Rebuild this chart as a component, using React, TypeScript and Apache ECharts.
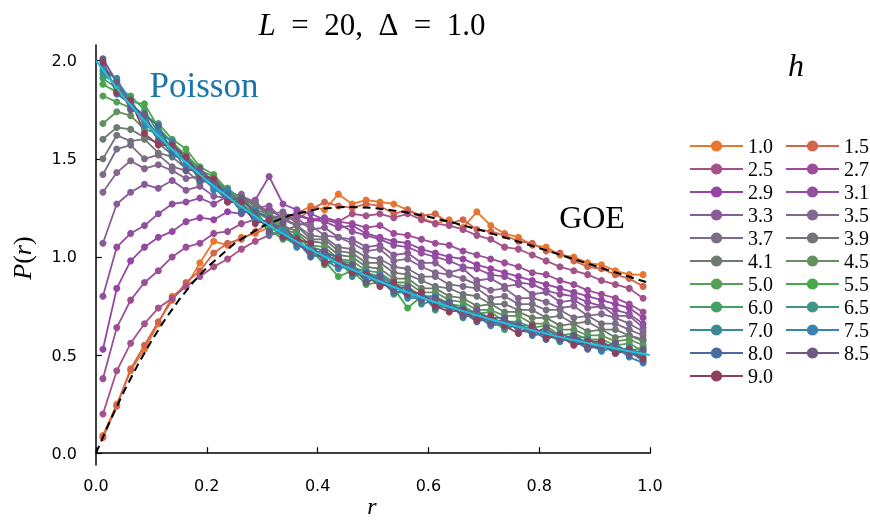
import { useEffect, useRef } from "react";
import * as echarts from "echarts";

// bin centres of r
const rBins = [0.0125,0.0375,0.0625,0.0875,0.1125,0.1375,0.1625,0.1875,0.2125,0.2375,0.2625,0.2875,0.3125,0.3375,0.3625,0.3875,0.4125,0.4375,0.4625,0.4875,0.5125,0.5375,0.5625,0.5875,0.6125,0.6375,0.6625,0.6875,0.7125,0.7375,0.7625,0.7875,0.8125,0.8375,0.8625,0.8875,0.9125,0.9375,0.9625,0.9875];

const hLabels = ["1.0","1.5","2.5","2.7","2.9","3.1","3.3","3.5","3.7","3.9","4.1","4.5","5.0","5.5","6.0","6.5","7.0","7.5","8.0","8.5","9.0"];
const hColors = ["#e8762b","#d2654c","#a5518a","#9c4d98","#9546a3","#924fa0","#895c99","#84668f","#7b6d85","#737379","#6c7b6e","#63905e","#55a052","#47a84b","#43a163","#3f9682","#3a8a91","#3982b4","#476ba0","#6c5a84","#8d3f5c"];

const p_h10 = [0.09,0.25,0.42,0.53,0.66,0.80,0.85,0.97,1.08,1.06,1.10,1.12,1.15,1.18,1.22,1.26,1.24,1.32,1.27,1.29,1.28,1.27,1.24,1.20,1.17,1.19,1.15,1.23,1.16,1.12,1.10,1.06,1.05,1.01,1.00,0.97,0.96,0.93,0.91,0.91];
const p_h15 = [0.08,0.24,0.43,0.55,0.67,0.78,0.87,0.93,1.02,1.07,1.09,1.13,1.17,1.21,1.19,1.24,1.28,1.26,1.25,1.27,1.26,1.22,1.24,1.21,1.22,1.17,1.19,1.14,1.13,1.11,1.08,1.07,1.03,1.02,0.98,0.95,0.94,0.91,0.89,0.85];
const p_h25 = [0.20,0.42,0.56,0.66,0.74,0.79,0.85,0.90,0.95,0.99,1.04,1.08,1.11,1.13,1.16,1.18,1.20,1.18,1.22,1.21,1.22,1.20,1.22,1.19,1.17,1.16,1.14,1.11,1.09,1.05,1.04,1.01,0.98,0.95,0.93,0.91,0.88,0.86,0.84,0.79];
const p_h27 = [0.38,0.64,0.78,0.87,0.93,1.00,1.05,1.07,1.12,1.13,1.17,1.19,1.18,1.22,1.21,1.19,1.20,1.18,1.17,1.15,1.16,1.12,1.11,1.09,1.07,1.06,1.03,1.01,0.99,0.97,0.95,0.92,0.91,0.88,0.86,0.83,0.81,0.79,0.76,0.72];
const p_h29 = [0.53,0.84,0.98,1.05,1.10,1.13,1.18,1.20,1.19,1.23,1.22,1.25,1.24,1.20,1.22,1.19,1.18,1.15,1.16,1.12,1.10,1.08,1.07,1.04,1.02,1.00,0.99,0.96,0.94,0.92,0.90,0.88,0.86,0.84,0.82,0.80,0.78,0.76,0.74,0.69];
const p_h31 = [0.80,1.05,1.12,1.16,1.22,1.27,1.28,1.30,1.27,1.31,1.28,1.29,1.41,1.27,1.24,1.22,1.19,1.17,1.13,1.11,1.09,1.06,1.05,1.02,1.00,0.98,0.95,0.94,0.91,0.90,0.87,0.86,0.83,0.81,0.80,0.77,0.75,0.73,0.71,0.66];
const p_h33 = [1.07,1.27,1.33,1.37,1.35,1.39,1.34,1.36,1.31,1.30,1.32,1.25,1.26,1.19,1.20,1.14,1.15,1.10,1.09,1.05,1.06,1.01,1.02,0.97,0.97,0.92,0.94,0.88,0.89,0.85,0.86,0.81,0.82,0.77,0.78,0.74,0.75,0.70,0.70,0.64];
const p_h35 = [1.33,1.43,1.49,1.45,1.47,1.44,1.40,1.41,1.35,1.33,1.31,1.28,1.22,1.23,1.17,1.16,1.11,1.10,1.07,1.03,1.04,0.98,0.99,0.95,0.92,0.91,0.89,0.86,0.83,0.84,0.79,0.79,0.77,0.74,0.75,0.70,0.71,0.69,0.66,0.62];
const p_h37 = [1.42,1.55,1.57,1.50,1.52,1.46,1.44,1.38,1.39,1.32,1.30,1.27,1.21,1.20,1.16,1.11,1.10,1.05,1.04,1.00,0.99,0.95,0.94,0.90,0.90,0.86,0.85,0.84,0.79,0.80,0.76,0.76,0.73,0.73,0.69,0.70,0.66,0.66,0.63,0.60];
const p_h39 = [1.50,1.62,1.59,1.60,1.53,1.51,1.45,1.43,1.37,1.35,1.29,1.27,1.21,1.19,1.16,1.09,1.09,1.03,1.02,0.97,0.97,0.92,0.91,0.88,0.85,0.84,0.81,0.80,0.76,0.76,0.73,0.73,0.69,0.70,0.66,0.67,0.63,0.63,0.60,0.58];
const p_h41 = [1.60,1.66,1.65,1.61,1.58,1.52,1.49,1.42,1.40,1.33,1.30,1.24,1.22,1.16,1.13,1.08,1.07,1.01,1.00,0.95,0.94,0.89,0.89,0.84,0.84,0.80,0.79,0.75,0.76,0.72,0.72,0.69,0.69,0.65,0.66,0.62,0.63,0.59,0.60,0.57];
const p_h45 = [1.68,1.74,1.72,1.65,1.63,1.56,1.51,1.44,1.41,1.34,1.30,1.23,1.21,1.14,1.12,1.06,1.05,0.99,0.98,0.93,0.92,0.87,0.87,0.82,0.82,0.78,0.77,0.73,0.73,0.70,0.70,0.66,0.66,0.63,0.63,0.60,0.60,0.57,0.58,0.55];
const p_h50 = [1.82,1.79,1.76,1.72,1.68,1.60,1.55,1.46,1.42,1.34,1.29,1.23,1.19,1.14,1.10,1.05,1.03,0.99,0.95,0.92,0.90,0.86,0.85,0.80,0.80,0.76,0.75,0.71,0.72,0.67,0.67,0.64,0.65,0.60,0.61,0.58,0.58,0.55,0.56,0.52];
const p_h55 = [1.88,1.84,1.79,1.78,1.66,1.58,1.52,1.45,1.37,1.32,1.27,1.22,1.16,1.10,1.06,1.05,0.98,0.90,0.93,0.86,0.87,0.84,0.74,0.80,0.77,0.75,0.74,0.69,0.69,0.65,0.66,0.62,0.62,0.58,0.60,0.55,0.56,0.52,0.53,0.49];
const p_h60 = [1.91,1.86,1.82,1.75,1.63,1.59,1.50,1.39,1.38,1.35,1.24,1.24,1.14,1.09,1.11,1.04,0.96,0.98,0.97,0.87,0.90,0.81,0.83,0.81,0.73,0.76,0.70,0.72,0.68,0.63,0.66,0.62,0.62,0.57,0.59,0.59,0.53,0.55,0.52,0.54];
const p_h65 = [1.93,1.88,1.80,1.69,1.60,1.57,1.48,1.40,1.39,1.33,1.25,1.19,1.17,1.15,1.06,1.05,1.03,0.95,0.94,0.93,0.87,0.87,0.80,0.80,0.77,0.73,0.74,0.71,0.66,0.68,0.63,0.61,0.63,0.60,0.57,0.54,0.57,0.53,0.51,0.52];
const p_h70 = [1.95,1.91,1.76,1.71,1.62,1.52,1.51,1.43,1.36,1.28,1.28,1.24,1.12,1.12,1.10,1.01,1.00,0.99,0.90,0.92,0.86,0.85,0.84,0.76,0.78,0.77,0.69,0.72,0.69,0.64,0.65,0.65,0.59,0.59,0.56,0.58,0.55,0.51,0.54,0.50];
const p_h75 = [1.97,1.90,1.80,1.67,1.64,1.59,1.47,1.45,1.34,1.34,1.27,1.19,1.18,1.13,1.05,1.06,0.99,0.94,0.96,0.89,0.91,0.86,0.79,0.79,0.80,0.73,0.74,0.70,0.65,0.66,0.66,0.60,0.61,0.57,0.60,0.56,0.52,0.54,0.49,0.46];
const p_h80 = [2.00,1.83,1.78,1.72,1.67,1.53,1.50,1.39,1.39,1.32,1.23,1.23,1.20,1.10,1.08,1.00,1.02,1.00,0.92,0.92,0.88,0.82,0.83,0.81,0.74,0.77,0.72,0.67,0.69,0.69,0.62,0.63,0.58,0.61,0.58,0.53,0.56,0.51,0.52,0.47];
const p_h85 = [2.01,1.89,1.75,1.73,1.59,1.56,1.44,1.45,1.38,1.29,1.30,1.22,1.13,1.17,1.07,1.02,1.03,0.96,0.96,0.87,0.90,0.83,0.85,0.78,0.79,0.76,0.70,0.73,0.66,0.68,0.65,0.61,0.64,0.58,0.60,0.54,0.54,0.56,0.50,0.53];
const p_h90 = [1.99,1.84,1.80,1.63,1.57,1.57,1.51,1.41,1.40,1.28,1.28,1.17,1.19,1.10,1.09,1.07,0.97,0.99,0.92,0.91,0.85,0.87,0.81,0.82,0.75,0.72,0.73,0.68,0.70,0.65,0.61,0.65,0.59,0.60,0.55,0.57,0.57,0.51,0.53,0.48];

const hValues = [p_h10,p_h15,p_h25,p_h27,p_h29,p_h31,p_h33,p_h35,p_h37,p_h39,p_h41,p_h45,p_h50,p_h55,p_h60,p_h65,p_h70,p_h75,p_h80,p_h85,p_h90];

// reference curves
const goeR = [0,0.025,0.05,0.075,0.1,0.125,0.15,0.175,0.2,0.25,0.3,0.35,0.4,0.45,0.5,0.55,0.6,0.65,0.7,0.75,0.8,0.85,0.9,0.95,1.0];
const goeP = [0,0.162,0.312,0.448,0.572,0.683,0.782,0.870,0.946,1.069,1.156,1.212,1.244,1.255,1.250,1.232,1.205,1.171,1.132,1.089,1.045,1.000,0.955,0.910,0.866];
const poisR = [0,0.05,0.1,0.15,0.2,0.25,0.3,0.35,0.4,0.45,0.5,0.55,0.6,0.65,0.7,0.75,0.8,0.85,0.9,0.95,1.0];
const poisP = [2.000,1.814,1.653,1.512,1.389,1.280,1.183,1.097,1.020,0.951,0.889,0.833,0.781,0.735,0.692,0.653,0.617,0.584,0.554,0.526,0.500];

const xTicks = [0, 0.2, 0.4, 0.6, 0.8, 1.0];
const yTicks = [0, 0.5, 1.0, 1.5, 2.0];

const SERIF = "'Liberation Serif', 'DejaVu Serif', serif";
const SANS = "'DejaVu Sans', sans-serif";

export default function App() {
  const ref = useRef<HTMLDivElement>(null);
  useEffect(() => {
    if (!ref.current) return;
    const chart = echarts.init(ref.current, null, { renderer: "svg" });
    const dataSeries = hLabels.map((name, i) => ({
      name,
      type: "line",
      data: rBins.map((r, k) => [r, hValues[i][k]]),
      symbol: "circle",
      symbolSize: 7,
      showSymbol: true,
      lineStyle: { width: 1.8, color: hColors[i] },
      itemStyle: { color: hColors[i] },
      emphasis: { disabled: true },
      z: 2,
    }));
    const col1 = hLabels.filter((_, i) => i % 2 === 0);
    const col2 = hLabels.filter((_, i) => i % 2 === 1);
    const legendBase = {
      orient: "vertical",
      top: 131,
      itemWidth: 53,
      itemHeight: 14,
      itemGap: 3,
      selectedMode: false,
      textStyle: { fontFamily: SERIF, fontSize: 20, lineHeight: 20, color: "#000" },
    };
    chart.setOption({
      animation: false,
      grid: { left: 96, right: 220, top: 45, bottom: 56, containLabel: false },
      xAxis: {
        type: "value",
        min: 0,
        max: 1,
        interval: 0.2,
        axisLine: { show: true, lineStyle: { color: "#000", width: 1.5 } },
        axisTick: { show: true, inside: true, length: 6, lineStyle: { color: "#000", width: 1.2 }, customValues: xTicks },
        axisLabel: { margin: 12, fontFamily: SANS, fontSize: 16, color: "#000", formatter: (v: number) => v.toFixed(1), customValues: xTicks },
        splitLine: { show: false },
      },
      yAxis: {
        type: "value",
        min: -0.06,
        max: 2.08,
        axisLine: { show: true, lineStyle: { color: "#000", width: 1.5 } },
        axisTick: { show: true, inside: true, length: 6, lineStyle: { color: "#000", width: 1.2 }, customValues: yTicks },
        axisLabel: { margin: 19, fontFamily: SANS, fontSize: 16, color: "#000", formatter: (v: number) => v.toFixed(1), customValues: yTicks },
        splitLine: { show: false },
      },
      legend: [
        { ...legendBase, left: 684, data: col1 },
        { ...legendBase, left: 780, data: col2 },
      ],
      series: [
        ...dataSeries,
        {
          name: "GOE",
          type: "line",
          data: goeR.map((r, k) => [r, goeP[k]]),
          showSymbol: false,
          symbol: "none",
          lineStyle: { color: "#000", width: 2, type: [8, 5] },
          emphasis: { disabled: true },
          z: 3,
        },
        {
          name: "Poisson",
          type: "line",
          data: poisR.map((r, k) => [r, poisP[k]]),
          showSymbol: false,
          symbol: "none",
          lineStyle: { color: "#1cc3e3", width: 2 },
          emphasis: { disabled: true },
          z: 4,
        },
      ],
      graphic: [
        {
          type: "text",
          x: 372,
          y: 24,
          style: {
            text: "{i|L}\u2002=\u200220,\u2002Δ\u2002=\u20021.0",
            fontFamily: SERIF,
            fontSize: 31,
            fill: "#000",
            align: "center",
            verticalAlign: "middle",
            rich: { i: { fontStyle: "italic", fontFamily: SERIF, fontSize: 31 } },
          },
        },
        {
          type: "text",
          x: 204,
          y: 85,
          style: { text: "Poisson", fontFamily: SERIF, fontSize: 35, fill: "#1b75ad", align: "center", verticalAlign: "middle" },
        },
        {
          type: "text",
          x: 592,
          y: 217,
          style: { text: "GOE", fontFamily: SERIF, fontSize: 32, fill: "#000", align: "center", verticalAlign: "middle" },
        },
        {
          type: "text",
          x: 796,
          y: 65,
          style: { text: "h", fontFamily: SERIF, fontStyle: "italic", fontSize: 32, fill: "#000", align: "center", verticalAlign: "middle" },
        },
        {
          type: "text",
          x: 372,
          y: 506,
          style: { text: "r", fontFamily: SERIF, fontStyle: "italic", fontSize: 24, fill: "#000", align: "center", verticalAlign: "middle" },
        },
        {
          type: "text",
          x: 22,
          y: 258,
          rotation: Math.PI / 2,
          style: {
            text: "{i|P}({i|r})",
            fontFamily: SERIF,
            fontSize: 26,
            fill: "#000",
            align: "center",
            verticalAlign: "middle",
            rich: { i: { fontStyle: "italic", fontFamily: SERIF, fontSize: 26 } },
          },
        },
      ],
    });
    return () => chart.dispose();
  }, []);
  return <div ref={ref} style={{ position: "fixed", left: 0, top: 0, width: 870, height: 521 }} />;
}
